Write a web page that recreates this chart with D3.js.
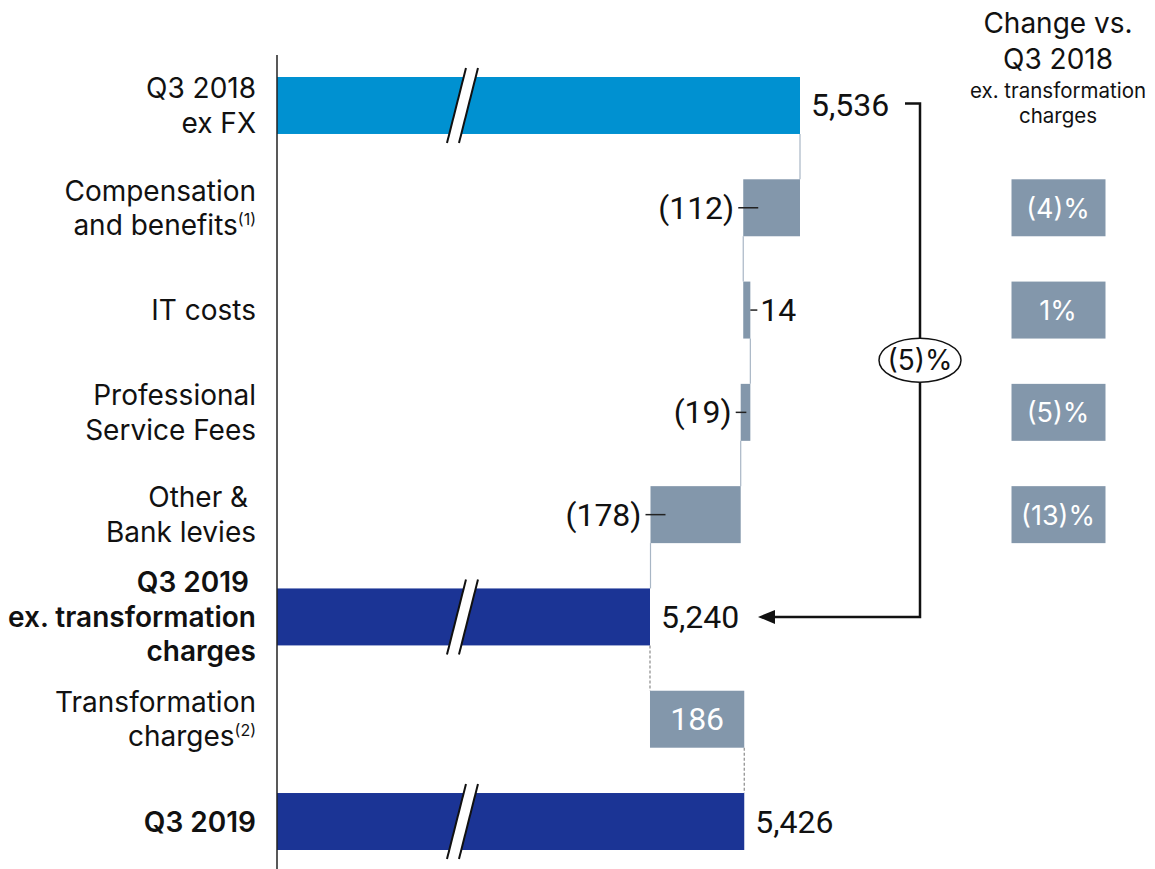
<!DOCTYPE html>
<html>
<head>
<meta charset="utf-8">
<script src="https://cdn.jsdelivr.net/npm/d3@7"></script>
<style>
  body { margin: 0; background: #fff; }
  text { font-family: Inter, Roboto, "Liberation Sans", sans-serif; }
  text.num { font-family: Roboto, "Liberation Sans", sans-serif; }
</style>
</head>
<body>
<div id="chart"></div>
<script>
// chart data
const categories = ['q3_2018', 'comp', 'it', 'prof', 'other', 'q3_2019_ex', 'transf', 'q3_2019']
const labelLines = [
  ['Q3 2018', 'ex FX'],
  ['Compensation', 'and benefits'],
  ['IT costs'],
  ['Professional', 'Service Fees'],
  ['Other & ', 'Bank levies'],
  ['Q3 2019 ', 'ex. transformation', 'charges'],
  ['Transformation', 'charges'],
  ['Q3 2019'],
]
const labelNotes = ['', '(1)', '', '', '', '', '(2)', '']
const boldLabels = [false, false, false, false, false, true, false, true]
const kinds = ['total', 'delta', 'delta', 'delta', 'delta', 'total', 'delta', 'total']
const values = [5536, -112, 14, -19, -178, 5240, 186, 5426]
const valueLabels = ['5,536', '(112)', '14', '(19)', '(178)', '5,240', '186', '5,426']
const changeLabels = [null, '(4)%', '1%', '(5)%', '(13)%', null, null, null]
const totalChange = '(5)%'

const drawChart = () => {
  const width = 1155
  const height = 869

  const svg = d3.select('#chart')
    .append('svg')
    .attr('width', width)
    .attr('height', height)

  // broken axis: the scale starts well above zero
  const xScale = d3.scaleLinear().domain([4504, 5536]).range([277, 800])
  const axisMin = xScale.domain()[0]
  const breakValue = 4870

  const yScale = d3.scaleBand()
    .domain(categories)
    .range([77, 850])
    .paddingInner(0.443)
    .paddingOuter(0)

  const bw = yScale.bandwidth()
  const cy = (i) => yScale(categories[i]) + bw / 2

  // waterfall running totals
  let running = 0
  const rows = values.map((v, i) => {
    let start, end
    if (kinds[i] === 'total') {
      start = axisMin
      end = v
    } else {
      start = running
      end = running + v
    }
    running = end
    return { i, key: categories[i], kind: kinds[i], value: v, start, end }
  })

  const colorFor = (d) => {
    if (d.kind === 'delta') return '#8397ab'
    return d.i === 0 ? '#0091d1' : '#1b3495'
  }

  // connectors
  const connectors = rows.slice(0, -1).map((d, k) => ({
    x: xScale(d.end),
    y1: yScale(d.key) + bw,
    y2: yScale(categories[k + 1]),
    dashed: k >= 5,
  }))
  svg.append('g')
    .selectAll('line')
    .data(connectors)
    .join('line')
    .attr('x1', (c) => c.x)
    .attr('x2', (c) => c.x)
    .attr('y1', (c) => c.y1)
    .attr('y2', (c) => c.y2)
    .attr('stroke', (c) => (c.dashed ? '#8a8a8a' : '#a8b6c5'))
    .attr('stroke-width', 1.2)
    .attr('stroke-dasharray', (c) => (c.dashed ? '3,2' : null))

  // bars
  svg.append('g')
    .selectAll('rect')
    .data(rows)
    .join('rect')
    .attr('x', (d) => xScale(Math.min(d.start, d.end)))
    .attr('width', (d) => Math.abs(xScale(d.end) - xScale(d.start)))
    .attr('y', (d) => yScale(d.key))
    .attr('height', bw)
    .attr('fill', colorFor)

  // break marks on the total bars
  const bx = xScale(breakValue)
  const slant = 9.5
  const gap = 6
  const breaks = svg.append('g')
  rows.filter((d) => d.kind === 'total').forEach((d) => {
    const y0 = yScale(d.key) - 9
    const y1 = yScale(d.key) + bw + 9
    breaks.append('polygon')
      .attr('points', [
        [bx - gap + slant, y0], [bx + gap + slant, y0],
        [bx + gap - slant, y1], [bx - gap - slant, y1],
      ].join(' '))
      .attr('fill', '#fff')
    ;[-gap, gap].forEach((g) => {
      breaks.append('line')
        .attr('x1', bx + g + slant).attr('y1', y0)
        .attr('x2', bx + g - slant).attr('y2', y1)
        .attr('stroke', '#111')
        .attr('stroke-width', 2)
    })
  })

  // axis line
  svg.append('line')
    .attr('x1', xScale(axisMin)).attr('x2', xScale(axisMin))
    .attr('y1', 55).attr('y2', height)
    .attr('stroke', '#222')
    .attr('stroke-width', 1.5)

  // category labels
  const lineGap = 34.5
  const labelGroup = svg.append('g')
  labelLines.forEach((lines, i) => {
    const t = labelGroup.append('text')
      .attr('text-anchor', 'end')
      .attr('font-size', 28)
      .attr('font-weight', boldLabels[i] ? 600 : 400)
      .attr('fill', '#111')
    const top = cy(i) - ((lines.length - 1) * lineGap) / 2 + 10
    lines.forEach((line, j) => {
      t.append('tspan')
        .attr('x', 256)
        .attr('y', top + j * lineGap)
        .text(line)
      if (j === lines.length - 1 && labelNotes[i]) {
        t.append('tspan')
          .attr('font-size', 16)
          .attr('dy', -10)
          .text(labelNotes[i])
      }
    })
  })

  // value labels and leader ticks
  const valueGroup = svg.append('g').attr('font-size', 32).attr('fill', '#111')
  rows.forEach((d) => {
    const y = cy(d.i) + 11
    const left = xScale(Math.min(d.start, d.end))
    const right = xScale(Math.max(d.start, d.end))
    if (d.kind === 'total') {
      valueGroup.append('text')
        .attr('class', 'num')
        .attr('x', right + 11)
        .attr('y', y)
        .text(valueLabels[d.i])
    } else if (d.i === 6) {
      valueGroup.append('text')
        .attr('class', 'num')
        .attr('x', (left + right) / 2)
        .attr('y', y)
        .attr('text-anchor', 'middle')
        .attr('fill', '#fff')
        .text(valueLabels[d.i])
    } else if (d.value < 0) {
      valueGroup.append('text')
        .attr('class', 'num')
        .attr('x', left - 9)
        .attr('y', y)
        .attr('text-anchor', 'end')
        .text(valueLabels[d.i])
      valueGroup.append('line')
        .attr('x1', left - 5)
        .attr('x2', Math.min(left + 15, right - 4))
        .attr('y1', cy(d.i)).attr('y2', cy(d.i))
        .attr('stroke', '#222')
        .attr('stroke-width', 1.5)
    } else {
      valueGroup.append('text')
        .attr('class', 'num')
        .attr('x', right + 10)
        .attr('y', y)
        .text(valueLabels[d.i])
      valueGroup.append('line')
        .attr('x1', right)
        .attr('x2', right + 7)
        .attr('y1', cy(d.i)).attr('y2', cy(d.i))
        .attr('stroke', '#222')
        .attr('stroke-width', 1.5)
    }
  })

  // bracket from Q3 2018 to Q3 2019 ex. transformation charges
  const bracketX = xScale(values[0]) + 120
  const yTop = cy(0) - 2
  const yBot = cy(5)
  const arrowTip = xScale(values[5]) + 108
  svg.append('path')
    .attr('d', `M${xScale(values[0]) + 105},${yTop} H${bracketX} V${yBot} H${arrowTip + 14}`)
    .attr('fill', 'none')
    .attr('stroke', '#111')
    .attr('stroke-width', 2.5)
  svg.append('path')
    .attr('d', `M${arrowTip},${yBot} L${arrowTip + 17},${yBot - 7} L${arrowTip + 17},${yBot + 7} Z`)
    .attr('fill', '#111')

  const midY = (yTop + yBot) / 2
  svg.append('ellipse')
    .attr('cx', bracketX).attr('cy', midY)
    .attr('rx', 41).attr('ry', 22)
    .attr('fill', '#fff')
    .attr('stroke', '#111')
    .attr('stroke-width', 1.5)
  svg.append('text')
    .attr('x', bracketX).attr('y', midY + 10)
    .attr('text-anchor', 'middle')
    .attr('font-size', 28)
    .attr('fill', '#111')
    .text(totalChange)

  // right column: change vs Q3 2018
  const colX = 1058
  const header = svg.append('g').attr('text-anchor', 'middle').attr('fill', '#111')
  header.append('text').attr('x', colX).attr('y', 33).attr('font-size', 28).text('Change vs.')
  header.append('text').attr('x', colX).attr('y', 69).attr('font-size', 28).text('Q3 2018')
  header.append('text').attr('x', colX).attr('y', 98).attr('font-size', 20.5).text('ex. transformation')
  header.append('text').attr('x', colX).attr('y', 123).attr('font-size', 20.5).text('charges')

  const changeRows = rows.filter((d) => changeLabels[d.i])
  const boxW = 94
  svg.append('g')
    .selectAll('rect')
    .data(changeRows)
    .join('rect')
    .attr('x', colX - boxW / 2 + 0.5)
    .attr('width', boxW)
    .attr('y', (d) => yScale(d.key))
    .attr('height', bw)
    .attr('fill', '#8397ab')
  svg.append('g')
    .selectAll('text')
    .data(changeRows)
    .join('text')
    .attr('x', colX)
    .attr('y', (d) => cy(d.i) + 10)
    .attr('text-anchor', 'middle')
    .attr('font-size', 27)
    .attr('fill', '#fff')
    .text((d) => changeLabels[d.i])
}

drawChart()
</script>
</body>
</html>
